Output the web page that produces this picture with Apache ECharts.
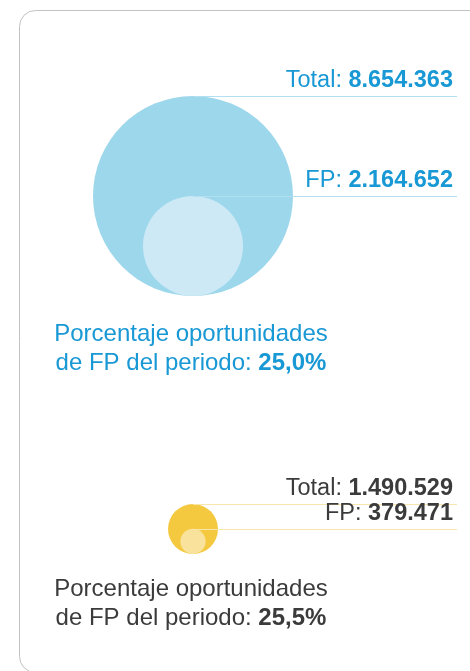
<!DOCTYPE html>
<html><head><meta charset="utf-8">
<script src="https://cdn.jsdelivr.net/npm/echarts@6/dist/echarts.min.js"></script>
<style>html,body{margin:0;padding:0;background:#fff}#c{width:470px;height:671px}</style>
</head><body><div id="c"></div>
<script>
// ---- data ----
const groups = ['Grupo 1', 'Grupo 2'];
const valueLabels = ['Total', 'FP'];
const totalValues = [8654363, 1490529];
const fpValues = [2164652, 379471];
const percentTitle = ['Porcentaje oportunidades', 'de FP del periodo: '];

// ---- styles ----
const FONT = "'Liberation Sans', Arial, Helvetica, sans-serif";
const themes = [
  { outer: '#9dd7ec', inner: '#cce9f5', line: '#b3e0f1', text: '#1898d4' },
  { outer: '#f4c93f', inner: '#f9e39c', line: '#f8e6ad', text: '#3b3b3b' }
];
const grids = [
  { left: 93, top: 96, width: 200, height: 200 },
  { left: 168, top: 504, width: 50, height: 50 }
];
const pctTop = [320, 575];
const LINE_END = 457, LABEL_RIGHT = 453;

function fmt(v) { return String(v).replace(/\B(?=(\d{3})+(?!\d))/g, '.'); }
function pct(f, t) { return (f / t * 100).toFixed(1).replace('.', ',') + '%'; }

const chart = echarts.init(document.getElementById('c'), null, { renderer: 'canvas' });

function makeRender(gi) {
  const th = themes[gi];
  return function (params, api) {
    const v = api.value(0);
    const r = Math.sqrt(v);
    const c = api.coord([0, r]);
    const rad = api.size([r, 0])[0];
    const top = api.coord([0, 2 * r]);
    const isTotal = params.dataIndex === 0;
    const lineY = Math.round(top[1]) + 0.5;
    return {
      type: 'group',
      children: [
        { type: 'circle', shape: { cx: c[0], cy: c[1], r: rad }, style: { fill: isTotal ? th.outer : th.inner } },
        { type: 'line', shape: { x1: c[0], y1: lineY, x2: LINE_END, y2: lineY }, style: { stroke: th.line, lineWidth: 1 } },
        {
          type: 'text', x: LABEL_RIGHT, y: lineY - 4,
          style: {
            text: '{l|' + valueLabels[params.dataIndex] + ': }{v|' + fmt(v) + '}',
            align: 'right', verticalAlign: 'bottom',
            rich: {
              l: { fontSize: 23.5, fontFamily: FONT, fill: th.text },
              v: { fontSize: 23.5, fontFamily: FONT, fontWeight: 'bold', fill: th.text }
            }
          }
        }
      ]
    };
  };
}

const xAxes = [], yAxes = [], series = [], graphics = [];
groups.forEach(function (g, gi) {
  const R = Math.sqrt(totalValues[gi]);
  xAxes.push({ gridIndex: gi, type: 'value', min: -R, max: R, show: false });
  yAxes.push({ gridIndex: gi, type: 'value', min: 0, max: 2 * R, show: false });
  series.push({
    name: g, type: 'custom', coordinateSystem: 'cartesian2d',
    xAxisIndex: gi, yAxisIndex: gi,
    data: [[totalValues[gi]], [fpValues[gi]]],
    renderItem: makeRender(gi), silent: true
  });
  graphics.push({
    type: 'text', x: 191, y: pctTop[gi],
    style: {
      text: '{n|' + percentTitle[0] + '}\n{n|' + percentTitle[1] + '}{b|' + pct(fpValues[gi], totalValues[gi]) + '}',
      align: 'center', verticalAlign: 'top',
      rich: {
        n: { fontSize: 24, lineHeight: 29, fontFamily: FONT, fill: themes[gi].text },
        b: { fontSize: 24, lineHeight: 29, fontFamily: FONT, fontWeight: 'bold', fill: themes[gi].text }
      }
    }
  });
});

graphics.push({
  type: 'rect', shape: { x: 19.5, y: 10.5, width: 600, height: 662, r: 16 },
  style: { fill: 'none', stroke: '#c2c2c2', lineWidth: 1 }, z: -1
});

chart.setOption({
  animation: false,
  backgroundColor: '#ffffff',
  grid: grids,
  xAxis: xAxes,
  yAxis: yAxes,
  series: series,
  graphic: graphics
});
</script>
</body></html>
